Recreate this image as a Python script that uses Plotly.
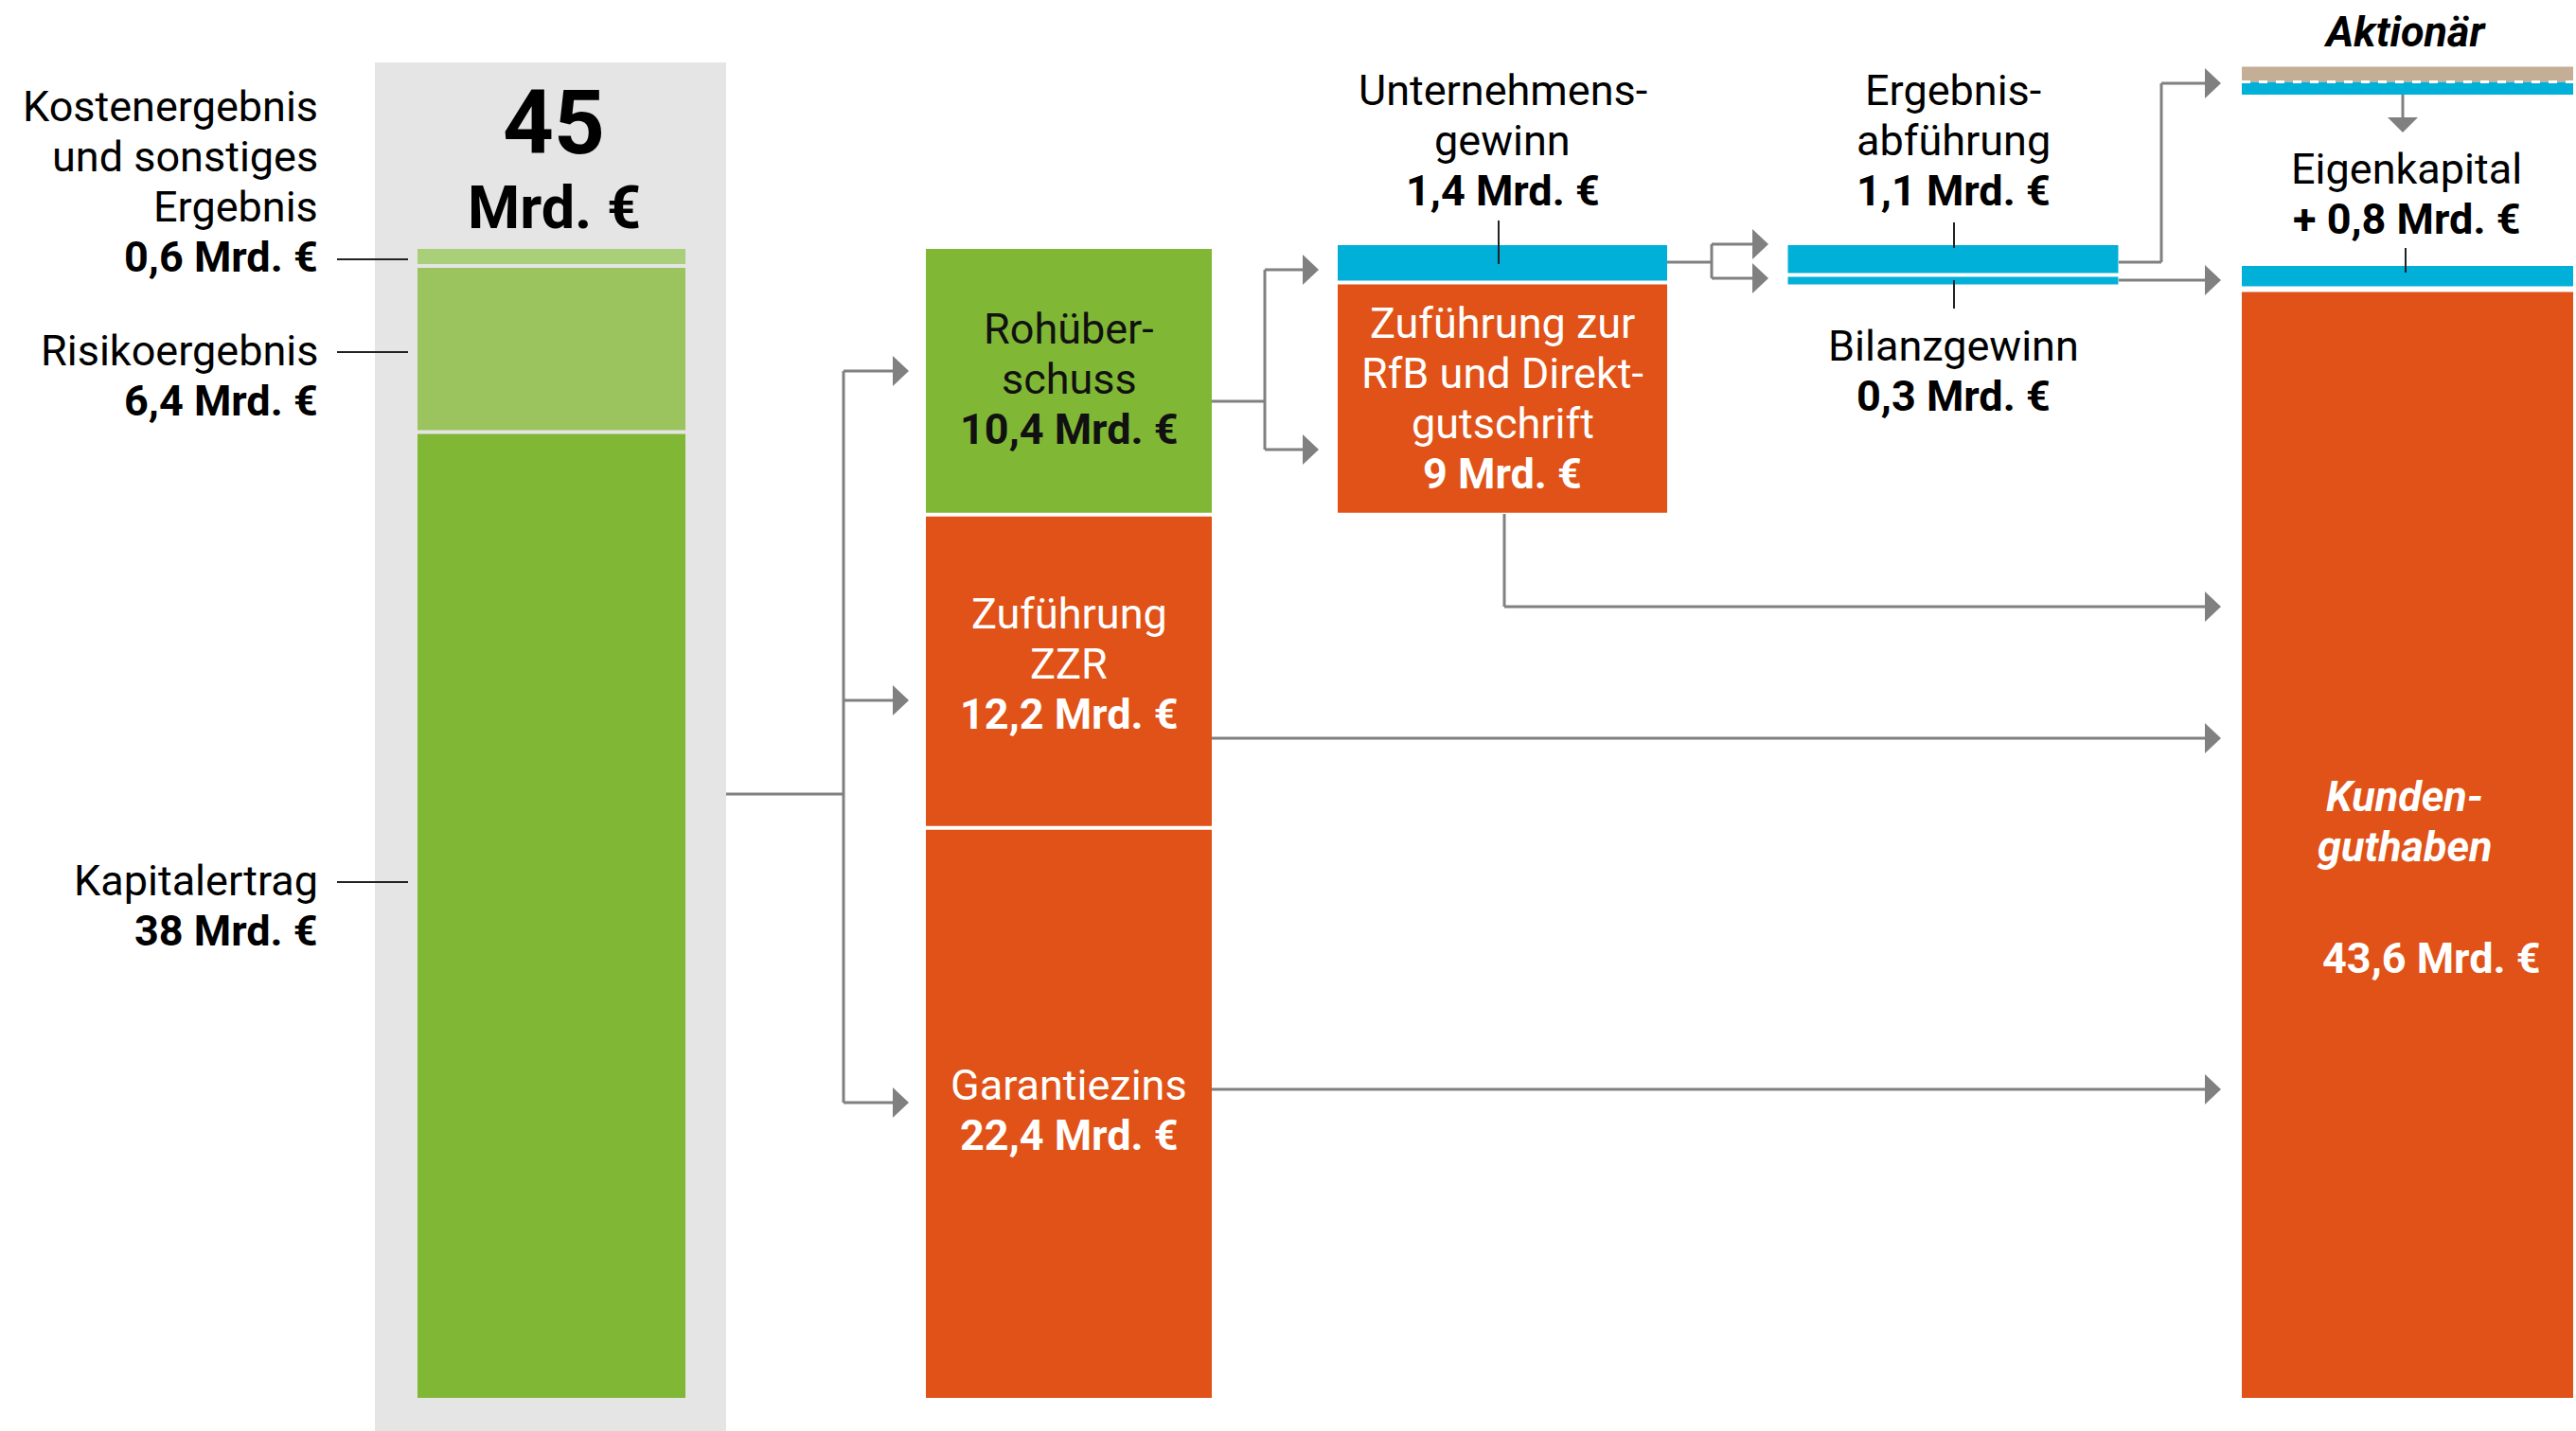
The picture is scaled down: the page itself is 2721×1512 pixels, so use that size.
import plotly.graph_objects as go

# ---------------- data (Mrd. €) ----------------
gesamt_ertrag = 45
ertrag_labels = ["Kapitalertrag", "Risikoergebnis", "Kostenergebnis und sonstiges Ergebnis"]
ertrag_values = [38.0, 6.4, 0.6]

verwendung_labels = ["Garantiezins", "Zuführung ZZR", "Rohüberschuss"]
verwendung_values = [22.4, 12.2, 10.4]

rohueberschuss_labels = ["Zuführung zur RfB und Direktgutschrift", "Unternehmensgewinn"]
rohueberschuss_values = [9.0, 1.4]

gewinn_labels = ["Bilanzgewinn", "Ergebnisabführung"]
gewinn_values = [0.3, 1.1]

aktionaer_labels = ["an Eigenkapital", "Aktionär"]
aktionaer_values = [0.5, 0.6]

ziel_labels = ["Kundenguthaben", "Eigenkapital"]
ziel_values = [43.6, 0.8]

# ---------------- layout / style ----------------
W, H = 2721, 1512
PX_PER = 26.8          # pixels per Mrd. €
Y0 = 1477              # pixel row of value 0
GAP = 4 / PX_PER
FONT = "Roboto"
FS = 45
LINE = 53              # line spacing of text blocks (px)

GREEN = "#80b836"
GREEN2 = "#9bc45e"
GREEN3 = "#a9cf79"
ORANGE = "#e05217"
BLUE = "#00b0d8"
BEIGE = "#c4ae96"
GREYBG = "#e5e5e5"
CONN = "#808080"


def yv(py):
    """pixel row -> value units (for annotation / connector placement)"""
    return (Y0 - py) / PX_PER


def dy(px):
    return px / PX_PER


# columns: (center, width) in x-pixel units
COL1 = (582.5, 283)
COL2 = (1129, 302)
COL3 = (1587, 348)
COL4 = (2063, 349)
COL5 = (2543, 350)

fig = go.Figure()


def stack(col, values, colors, base0=0.0, gap=GAP):
    base = base0
    bases = []
    for v, c in zip(values, colors):
        fig.add_trace(go.Bar(x=[col[0]], y=[v], base=[base], width=[col[1]],
                             marker=dict(color=c, line=dict(width=0)),
                             showlegend=False, hoverinfo="skip"))
        bases.append(base)
        base = base + v + gap
    return bases


# grey background box of column 1
fig.add_shape(type="rect", x0=396, x1=767, y0=yv(1512), y1=yv(66),
              fillcolor=GREYBG, line_width=0, layer="below")

b1 = stack(COL1, ertrag_values, [GREEN, GREEN2, GREEN3])
b2 = stack(COL2, verwendung_values, [ORANGE, ORANGE, GREEN])
b3 = stack(COL3, rohueberschuss_values, [ORANGE, BLUE], base0=b2[2])
b4 = stack(COL4, gewinn_values, [BLUE, BLUE], base0=b3[0] + rohueberschuss_values[0])
b5 = stack(COL5, ziel_values, [ORANGE, BLUE], gap=dy(6))
AKT_BASE = yv(100)
b6 = stack(COL5, aktionaer_values, [BLUE, BEIGE], base0=AKT_BASE, gap=0)

# dashed separator in Aktionär bar
sep_y = b6[1]
fig.add_shape(type="line", x0=COL5[0] - COL5[1] / 2, x1=COL5[0] + COL5[1] / 2,
              y0=sep_y, y1=sep_y, line=dict(color="white", width=3, dash="dash"))

# ---------------- connectors ----------------
def seg(x0, y0, x1, y1, color=CONN, w=3):
    fig.add_shape(type="line", x0=x0, x1=x1, y0=y0, y1=y1,
                  line=dict(color=color, width=w), layer="above")


def arrow_right(x_tip, y, length=17, half=16):
    path = f"M {x_tip},{y} L {x_tip - length},{y + dy(half)} L {x_tip - length},{y - dy(half)} Z"
    fig.add_shape(type="path", path=path, fillcolor=CONN, line_width=0)


def arrow_down(x, y_tip, length=16, half=16):
    path = f"M {x},{y_tip} L {x - half},{y_tip + dy(length)} L {x + half},{y_tip + dy(length)} Z"
    fig.add_shape(type="path", path=path, fillcolor=CONN, line_width=0)


# col1 -> col2
seg(767, yv(839), 891, yv(839))
seg(891, yv(392), 891, yv(1165))
for py in (392, 740, 1165):
    seg(891, yv(py), 945, yv(py))
    arrow_right(960, yv(py))

# Rohüberschuss -> col3
seg(1280, yv(424), 1336, yv(424))
seg(1336, yv(285), 1336, yv(475))
for py in (285, 475):
    seg(1336, yv(py), 1378, yv(py))
    arrow_right(1393, yv(py))

# Unternehmensgewinn -> col4
seg(1761, yv(277), 1808, yv(277))
seg(1808, yv(258), 1808, yv(294))
for py in (258, 294):
    seg(1808, yv(py), 1852, yv(py))
    arrow_right(1868, yv(py))

# Ergebnisabführung -> Aktionär
seg(2238, yv(277), 2283, yv(277))
seg(2283, yv(277), 2283, yv(88))
seg(2283, yv(88), 2330, yv(88))
arrow_right(2346, yv(88))

# Bilanzgewinn -> Eigenkapital
seg(2238, yv(296), 2330, yv(296))
arrow_right(2346, yv(296))

# RfB -> Kundenguthaben
seg(1589, yv(543), 1589, yv(641))
seg(1589, yv(641), 2330, yv(641))
arrow_right(2346, yv(641))

# ZZR / Garantiezins -> Kundenguthaben
for py in (780, 1151):
    seg(1280, yv(py), 2330, yv(py))
    arrow_right(2346, yv(py))

# Aktionär -> Eigenkapital (down)
seg(2538, AKT_BASE, 2538, yv(125))
arrow_down(2538, yv(140))

# ---------------- leader lines (black) ----------------
for py in (274, 372, 932):
    seg(356, yv(py), 431, yv(py), color="#222222", w=2)
seg(1583, yv(233), 1583, yv(279), color="#222222", w=2)
seg(2064, yv(235), 2064, yv(262), color="#222222", w=2)
seg(2064, yv(296), 2064, yv(326), color="#222222", w=2)
seg(2541, yv(262), 2541, yv(288), color="#222222", w=2)


# ---------------- text ----------------
def label(x, py, lines, color="black", size=FS, xanchor="center", spacing=LINE):
    n = len(lines)
    for i, t in enumerate(lines):
        yy = py + (i - (n - 1) / 2) * spacing
        fig.add_annotation(x=x, y=yv(yy), text=t, showarrow=False,
                           xanchor=xanchor, yanchor="middle",
                           font=dict(family=FONT, size=size, color=color))


def mrd(v, prefix=""):
    s = f"{v:g}".replace(".", ",")
    return f"<b>{prefix}{s} Mrd. €</b>"


label(338, 192, ["Kostenergebnis", "und sonstiges", "Ergebnis", mrd(ertrag_values[2])], xanchor="right")
label(338, 397, ["Risikoergebnis", mrd(ertrag_values[1])], xanchor="right")
label(338, 957, ["Kapitalertrag", mrd(ertrag_values[0])], xanchor="right")

label(585, 130, [f"<b>{gesamt_ertrag}</b>"], size=94)
label(585, 219, ["<b>Mrd. €</b>"], size=63)

label(COL2[0], 400, ["Rohüber-", "schuss", mrd(verwendung_values[2])], color="#111111")
label(COL2[0], 701, ["Zuführung", "ZZR", mrd(verwendung_values[1])], color="white")
label(COL2[0], 1173, ["Garantiezins", mrd(verwendung_values[0])], color="white")

label(COL3[0], 148, ["Unternehmens-", "gewinn", mrd(rohueberschuss_values[1])])
label(COL3[0], 421, ["Zuführung zur", "RfB und Direkt-", "gutschrift", mrd(rohueberschuss_values[0])],
      color="white")

label(COL4[0], 148, ["Ergebnis-", "abführung", mrd(gewinn_values[1])])
label(COL4[0], 392, ["Bilanzgewinn", mrd(gewinn_values[0])])

label(2540, 33, ["<b><i>Aktionär</i></b>"])
label(2542, 205, ["Eigenkapital", mrd(ziel_values[1], prefix="+ ")])
label(2540, 868, ["<b><i>Kunden-</i></b>", "<b><i>guthaben</i></b>"], color="white")
label(2568, 1012, [mrd(ziel_values[0])], color="white")

fig.update_layout(
    width=W, height=H,
    margin=dict(l=0, r=0, t=0, b=0),
    paper_bgcolor="white", plot_bgcolor="white",
    barmode="overlay", showlegend=False,
    xaxis=dict(range=[0, W], visible=False, fixedrange=True),
    yaxis=dict(range=[yv(H), yv(0)], visible=False, fixedrange=True),
    font=dict(family=FONT, size=FS),
)

fig.write_html("out.html", config={"displayModeBar": False, "staticPlot": True},
               post_script="document.body.style.margin='0';document.body.style.overflow='hidden';")
